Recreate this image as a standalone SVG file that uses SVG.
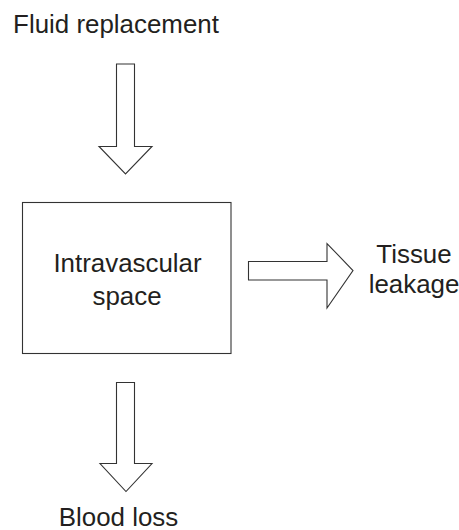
<svg xmlns="http://www.w3.org/2000/svg" width="459" height="530" viewBox="0 0 459 530">
<style>
.t{font-family:"Liberation Sans",Arial,sans-serif;font-size:25.9px;fill:#231f20;text-anchor:middle}
.s{fill:#fff;stroke:#333;stroke-width:1.1}
</style>
<rect width="459" height="530" fill="#fff"/>
<g id="fluid-replacement"><text class="t" x="116" y="32.5">Fluid replacement</text></g>
<g id="intravascular-space">
<rect class="s" x="22.5" y="202.5" width="208.5" height="151"/>
<text class="t" x="127.5" y="271.5">Intravascular</text>
<text class="t" x="127" y="304.5">space</text>
</g>
<g id="tissue-leakage"><text class="t" x="414" y="263"><tspan x="414">Tissue</tspan><tspan x="414" y="293">leakage</tspan></text></g>
<g id="blood-loss"><text class="t" x="118.5" y="526">Blood loss</text></g>
<g id="connectors">
<polygon class="s" points="116.5,64 134.5,64 134.5,146.5 152,146.5 125.5,174 99,146.5 116.5,146.5"/>
<polygon class="s" points="248.5,261.5 327,261.5 327,243.5 353,270.5 327,308 327,280 248.5,280"/>
<polygon class="s" points="116.5,382.5 134.5,382.5 134.5,463.5 152,463.5 126,491.5 100,463.5 116.5,463.5"/>
</g>
</svg>
